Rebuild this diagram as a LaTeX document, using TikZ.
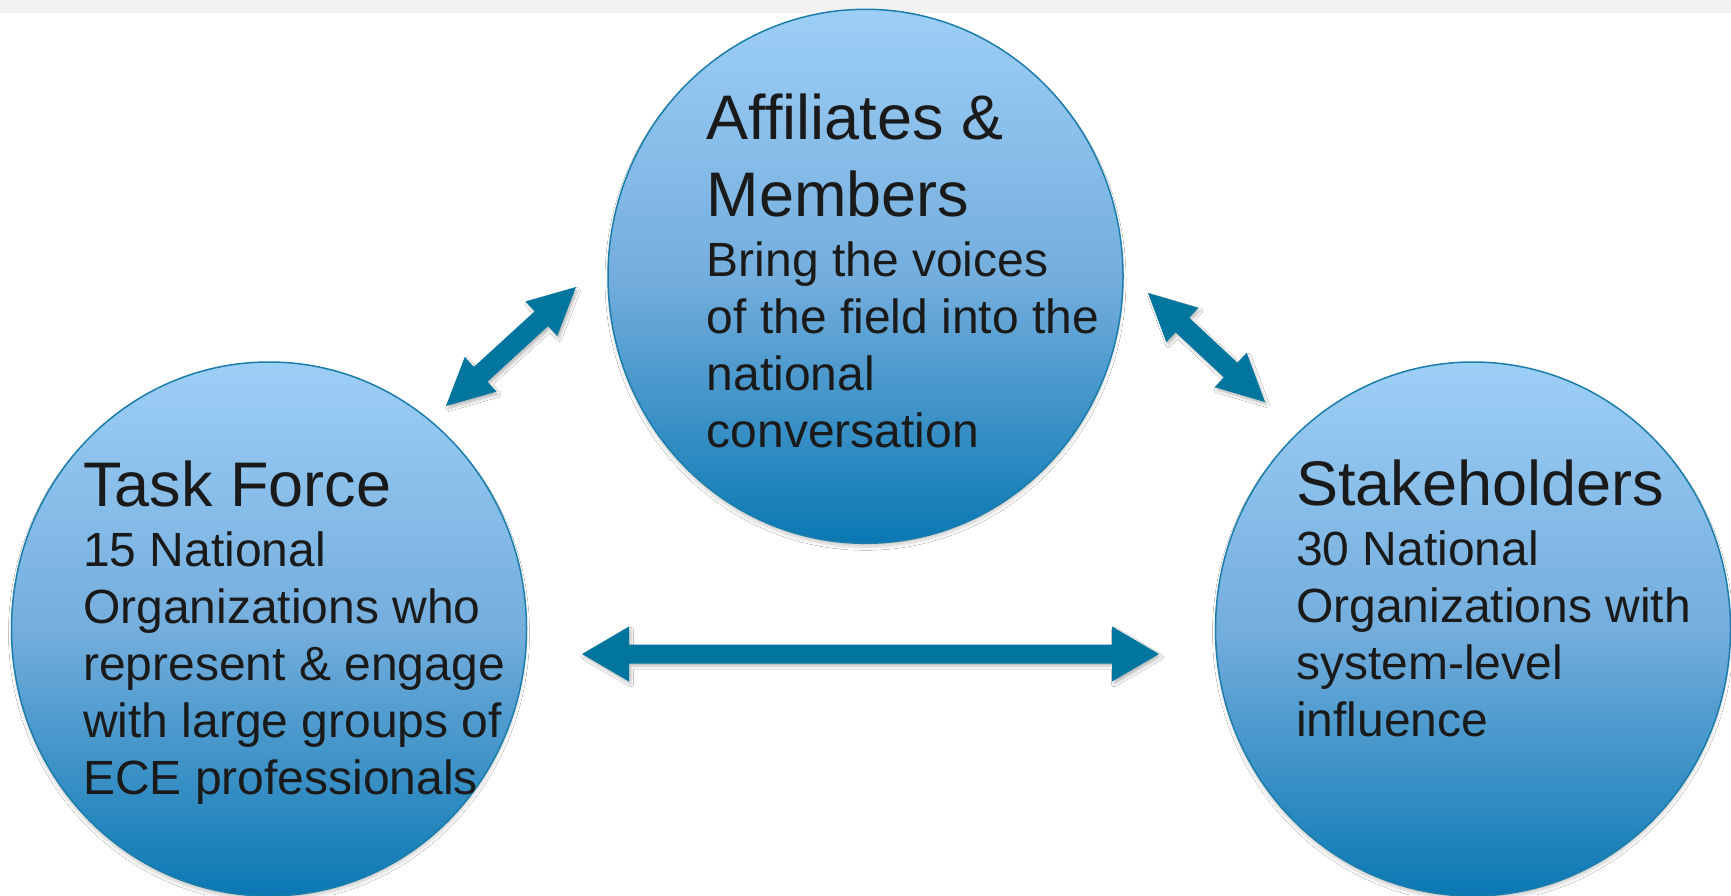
\documentclass[tikz,border=0pt]{standalone}
\usepackage{fontspec}
\setmainfont{Liberation Sans}
\usetikzlibrary{calc,shapes.geometric,shadows.blur}
\definecolor{band}{HTML}{F2F2F2}
\definecolor{ctop}{HTML}{9DCEF6}
\definecolor{cmid}{HTML}{74AEDD}
\definecolor{cbot}{HTML}{0A78B3}
\definecolor{cedge}{HTML}{1A7DAA}
\definecolor{arrowcol}{HTML}{00769F}
\definecolor{txt}{HTML}{1A1A1A}
\newcommand\ttlfont{\fontsize{63pt}{76.5pt}\selectfont}
\newcommand\bdyfont{\fontsize{48pt}{57pt}\selectfont}
% #1 prefix, #2 tip A, #3 tip B, #4 head length, #5 head half width, #6 shaft half width
\newcommand\dblarr[6]{%
  \coordinate (#1ha) at ($(#2)!#4!(#3)$);
  \coordinate (#1hb) at ($(#3)!#4!(#2)$);
  \fill[arr] (#2) -- ($(#1ha)!#5!90:(#3)$) -- ($(#1ha)!#6!90:(#3)$)
    -- ($(#1hb)!#6!90:(#3)$) -- ($(#1hb)!#5!90:(#3)$) -- (#3)
    -- ($(#1hb)!#5!-90:(#3)$) -- ($(#1hb)!#6!-90:(#3)$)
    -- ($(#1ha)!#6!-90:(#3)$) -- ($(#1ha)!#5!-90:(#3)$) -- cycle;
}
\begin{document}
\begin{tikzpicture}[x=1pt,y=-1pt,
  bubble/.style={ellipse, draw=cedge, line width=1.5pt, inner sep=0pt,
    minimum width=515pt, minimum height=534pt,
    top color=ctop, bottom color=cbot, middle color=cmid,
    blur shadow={shadow xshift=0pt, shadow yshift=-4pt, shadow blur radius=3pt, shadow opacity=18}},
  blocktext/.style={anchor=base west, inner sep=0pt, text=txt},
  arr/.style={fill=arrowcol,
    blur shadow={shadow xshift=2pt, shadow yshift=-3pt, shadow blur radius=2.5pt, shadow opacity=25}}]
\fill[white] (0,0) rectangle (1731,895);
\useasboundingbox (0,0) rectangle (1731,895);
\fill[band] (0,0) rectangle (1731,13.3);

% circles
\node[bubble] (am) at (865.5,276.3) {};
\node[bubble] (tf) at (269,629) {};
\node[bubble] (sh) at (1473,629) {};

% texts
\node[blocktext] (amt) at (706.5,139.5) {\vtop{\lineskiplimit=-1000pt \ttlfont
  \hbox{Affiliates \&}\hbox{Members}\bdyfont\baselineskip=60.7pt
  \hbox{Bring the voices}\baselineskip=57pt
  \hbox{of the field into the}\hbox{national}\hbox{conversation}}};
\node[blocktext] (tft) at (83,506) {\vtop{\lineskiplimit=-1000pt \ttlfont
  \hbox{Task Force}\bdyfont\baselineskip=60.7pt
  \hbox{15 National}\baselineskip=57pt
  \hbox{Organizations who}\hbox{represent \& engage}\hbox{with large groups of}\hbox{ECE professionals}}};
\node[blocktext] (sht) at (1296,505) {\vtop{\lineskiplimit=-1000pt \ttlfont
  \hbox{Stakeholders}\bdyfont\baselineskip=60.7pt
  \hbox{30 National}\baselineskip=57pt
  \hbox{Organizations with}\hbox{system-level}\hbox{influence}}};

% arrows
\coordinate (l1) at (446,406);
\coordinate (l2) at (576,287);
\coordinate (r1) at (1148,293);
\coordinate (r2) at (1265,402);
\coordinate (h1) at (582,654);
\coordinate (h2) at (1159,654);
\dblarr{la}{l1}{l2}{47pt}{23.5pt}{10pt}
\dblarr{ra}{r1}{r2}{47pt}{23.5pt}{10pt}
\dblarr{ha}{h1}{h2}{47pt}{27.5pt}{9.5pt}
\end{tikzpicture}
\end{document}
